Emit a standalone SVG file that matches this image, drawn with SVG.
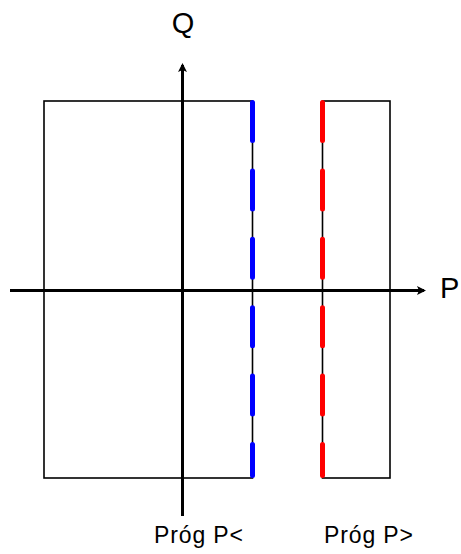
<svg xmlns="http://www.w3.org/2000/svg" width="461" height="554" viewBox="0 0 461 554">
<defs>
<style>
.box{fill:none;stroke:#000;stroke-width:1.6}
.axis{stroke:#000;stroke-width:3;fill:none}
.thr{fill:none;stroke-width:5;stroke-linecap:round;stroke-dasharray:38 30.4}
.lbl{font-family:"Liberation Sans",Arial,sans-serif;fill:#000}
</style>
<marker id="ah" markerWidth="10" markerHeight="10" refX="7" refY="5" orient="auto" markerUnits="userSpaceOnUse">
<path d="M0,0.5 L9,5 L0,9.5 L2,5 Z" fill="#000"/>
</marker>
</defs>
<g id="region-left"><rect class="box" x="44" y="101" width="208.5" height="377"/></g>
<g id="region-right"><rect class="box" x="322.5" y="101" width="67.5" height="377"/></g>
<g id="connectors">
<line class="axis" x1="10" y1="290.5" x2="424" y2="290.5" marker-end="url(#ah)"/>
<line class="axis" x1="182.5" y1="516" x2="182.5" y2="65" marker-end="url(#ah)"/>
</g>
<g id="threshold-low"><line class="thr" stroke="#0000FF" x1="252.5" y1="102.5" x2="252.5" y2="475.5"/></g>
<g id="threshold-high"><line class="thr" stroke="#FF0000" x1="322.5" y1="102.5" x2="322.5" y2="475.5"/></g>
<g id="label-Q"><text class="lbl" x="183" y="33" font-size="29" text-anchor="middle">Q</text></g>
<g id="label-P"><text class="lbl" x="440" y="298" font-size="29">P</text></g>
<g id="label-low"><text class="lbl" x="154" y="543" font-size="23" textLength="89" lengthAdjust="spacing">Próg P&lt;</text></g>
<g id="label-high"><text class="lbl" x="324" y="543" font-size="23" textLength="89" lengthAdjust="spacing">Próg P&gt;</text></g>
</svg>
